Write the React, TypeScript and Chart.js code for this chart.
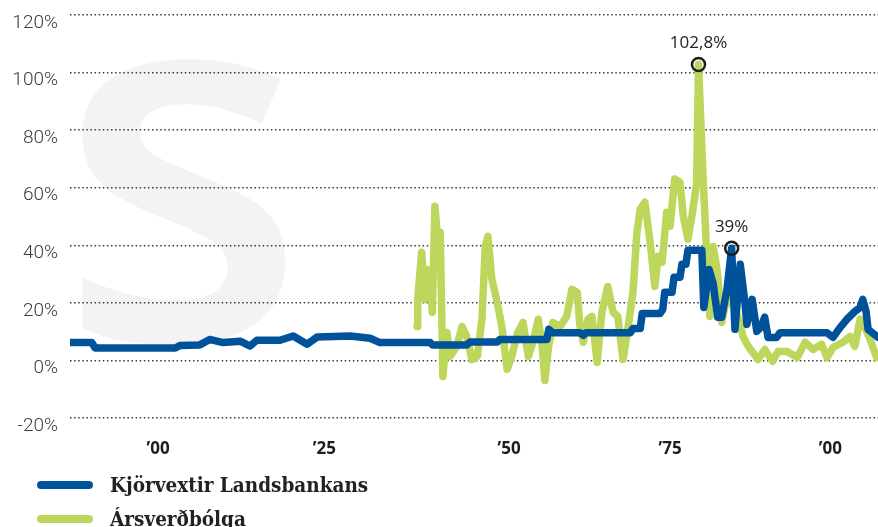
import { useEffect, useRef } from 'react';
import { Chart, registerables } from 'chart.js';

Chart.register(...registerables);

// Kjörvextir Landsbankans (prime rate, %)
const rateYears = [
  1886.0, 1889.3, 1889.8, 1901.9, 1902.6, 1905.6, 1907.1, 1909.1, 1911.7, 1913.2,
  1914.2, 1917.7, 1919.7, 1921.8, 1923.3, 1928.3, 1931.3, 1932.8, 1940.4, 1940.7,
  1945.9, 1946.4, 1950.5, 1950.9, 1958.0, 1958.3, 1958.9, 1963.0, 1963.5, 1963.9,
  1970.6, 1971.0, 1972.1, 1972.4, 1975.1, 1975.5, 1975.8, 1976.9, 1977.2, 1978.1,
  1978.4, 1979.0, 1979.3, 1981.4, 1981.7, 1982.5, 1983.1, 1983.8, 1984.4, 1985.2,
  1985.9, 1986.4, 1987.2, 1987.9, 1988.2, 1989.0, 1989.7, 1990.3, 1990.9, 1991.4,
  1992.7, 1993.2, 2000.3, 2001.2, 2002.3, 2003.3, 2004.5, 2005.3, 2005.7, 2006.2,
  2006.5, 2008.0,
];
const rateValues = [
  6.2, 6.2, 4.3, 4.3, 5.2, 5.4, 7.3, 6.2, 6.7, 5.0,
  7.0, 7.0, 8.5, 5.6, 8.1, 8.5, 7.7, 6.2, 6.2, 5.4,
  5.4, 6.4, 6.4, 7.3, 7.3, 10.8, 9.6, 9.6, 8.7, 9.6,
  9.6, 11.1, 11.1, 16.3, 16.3, 17.7, 23.7, 23.7, 28.9, 28.9,
  33.4, 33.4, 38.3, 38.3, 18.4, 31.6, 26.8, 15.0, 15.0, 24.7,
  39.0, 10.8, 33.4, 20.2, 12.5, 21.2, 10.1, 11.5, 15.0, 8.0,
  8.0, 9.6, 9.6, 8.0, 11.5, 14.3, 17.0, 18.4, 21.2, 17.0,
  10.8, 8.0,
];

// Ársverðbólga (annual inflation, %)
const inflationYears = [
  1938.4, 1938.5, 1939.1, 1939.6, 1939.9, 1940.4, 1940.7, 1941.1, 1941.6, 1941.9,
  1942.3, 1942.9, 1943.4, 1944.4, 1945.2, 1945.9, 1946.7, 1947.5, 1948.2, 1948.7,
  1949.1, 1949.7, 1950.5, 1951.2, 1952.0, 1952.7, 1953.6, 1954.4, 1955.2, 1955.9,
  1956.7, 1957.3, 1957.7, 1958.2, 1958.9, 1960.0, 1961.0, 1961.8, 1962.6, 1963.0,
  1963.5, 1964.2, 1964.8, 1965.6, 1966.3, 1967.2, 1968.0, 1968.7, 1969.5, 1970.3,
  1971.0, 1971.6, 1972.1, 1972.8, 1973.6, 1974.3, 1974.8, 1975.4, 1976.1, 1976.6,
  1977.3, 1978.1, 1978.6, 1979.3, 1979.9, 1980.6, 1980.9, 1981.6, 1982.2, 1982.6,
  1983.1, 1983.7, 1984.4, 1985.2, 1986.4, 1987.2, 1987.6, 1988.4, 1989.9, 1990.9,
  1992.1, 1992.9, 1994.3, 1995.8, 1997.0, 1998.2, 1999.5, 2000.3, 2001.2, 2002.7,
  2003.8, 2004.5, 2005.3, 2006.0, 2006.8, 2007.8,
];
const inflationValues = [
  11.8, 21.2, 37.6, 21.2, 31.6, 30.6, 16.7, 53.6, 39.6, 44.5,
  -5.6, 9.7, 1.4, 4.9, 11.8, 8.3, 0.3, 1.4, 14.3, 39.6,
  43.1, 28.2, 20.2, 11.8, -3.1, 1.4, 9.7, 13.2, 1.4, 6.3,
  14.3, 4.9, -7.0, 3.8, 13.2, 11.8, 15.3, 24.7, 23.6, 11.8,
  6.3, 14.3, 15.3, -0.7, 16.7, 25.7, 16.7, 15.3, 0.3, 12.0,
  23.6, 44.5, 52.5, 55.0, 41.0, 25.7, 36.2, 34.1, 51.5, 46.6,
  63.0, 61.9, 50.1, 42.1, 50.1, 61.2, 102.8, 63.0, 34.1, 15.3,
  39.6, 31.6, 13.2, 22.3, 18.0, 12.5, 8.3, 4.9, 0.3, 3.8,
  -0.3, 3.1, 3.1, 1.0, 6.3, 3.8, 5.6, 1.0, 4.5, 6.3,
  8.3, 4.9, 14.3, 11.8, 7.3, 1.0,
];

const seriesNames = ['Kjörvextir Landsbankans', 'Ársverðbólga'];
const seriesColors = ['#00539b', '#bdd75c'];

const xTickValues = [1899.3, 1924.4, 1952.3, 1976.6, 2000.8];
const xTickLabels = ['\u201900', '\u201925', '\u201950', '\u201975', '\u201900'];
const yMin = -20;
const yMax = 120;
const yStep = 20;

const calloutYears = [1980.9, 1985.9];
const calloutValues = [102.8, 39];
const calloutTexts = ['102,8%', '39%'];

const watermarkPlugin = {
  id: 'watermark',
  beforeDraw(chart: any) {
    const { ctx } = chart;
    ctx.save();
    ctx.fillStyle = '#f3f3f5';
    ctx.font = '600 510px "Open Sans"';
    ctx.textBaseline = 'alphabetic';
    ctx.fillText('s', 58, 340);
    ctx.restore();
  },
};

const calloutPlugin = {
  id: 'callouts',
  afterDatasetsDraw(chart: any) {
    const { ctx, scales } = chart;
    ctx.save();
    calloutYears.forEach((yr, i) => {
      const px = scales.x.getPixelForValue(yr);
      const py = scales.y.getPixelForValue(calloutValues[i]);
      ctx.beginPath();
      ctx.arc(px, py, 6.5, 0, Math.PI * 2);
      ctx.lineWidth = 2.5;
      ctx.strokeStyle = '#1e1e1e';
      ctx.stroke();
      ctx.fillStyle = '#222';
      ctx.font = '17px "Open Sans"';
      ctx.textAlign = 'center';
      ctx.textBaseline = 'middle';
      ctx.fillText(calloutTexts[i], px, py - 21);
    });
    ctx.restore();
  },
};

const legendPlugin = {
  id: 'customLegend',
  afterDraw(chart: any) {
    const { ctx } = chart;
    ctx.save();
    seriesNames.forEach((name, i) => {
      const cy = 485 + i * 34;
      ctx.beginPath();
      ctx.moveTo(41, cy);
      ctx.lineTo(89, cy);
      ctx.lineWidth = 8;
      ctx.lineCap = 'round';
      ctx.strokeStyle = seriesColors[i];
      ctx.stroke();
      ctx.fillStyle = '#222';
      ctx.font = "bold 20.5px 'DejaVu Serif Condensed', 'DejaVu Serif', serif";
      ctx.textAlign = 'left';
      ctx.textBaseline = 'alphabetic';
      ctx.fillText(name, 110, cy + 7);
    });
    ctx.restore();
  },
};

export default function App() {
  const canvasRef = useRef<HTMLCanvasElement | null>(null);

  useEffect(() => {
    document.body.style.margin = '0';
    const canvas = canvasRef.current;
    if (!canvas) return;
    const chart = new Chart(canvas, {
      type: 'line',
      data: {
        datasets: [
          {
            label: seriesNames[0],
            data: rateYears.map((x, i) => ({ x, y: rateValues[i] })),
            borderColor: seriesColors[0],
            borderWidth: 7.5,
            pointRadius: 0,
            borderJoinStyle: 'round',
            borderCapStyle: 'round',
            tension: 0,
          },
          {
            label: seriesNames[1],
            data: inflationYears.map((x, i) => ({ x, y: inflationValues[i] })),
            borderColor: seriesColors[1],
            borderWidth: 7.5,
            pointRadius: 0,
            borderJoinStyle: 'round',
            borderCapStyle: 'round',
            tension: 0,
          },
        ],
      },
      options: {
        responsive: false,
        animation: false,
        devicePixelRatio: 1,
        layout: { padding: { top: 15, left: 0, right: 0, bottom: 0 } },
        plugins: {
          legend: { display: false },
          tooltip: { enabled: false },
        },
        scales: {
          x: {
            type: 'linear',
            min: 1886,
            max: 2008,
            grid: { display: false, drawTicks: false },
            border: { display: false },
            afterBuildTicks: (scale: any) => {
              scale.ticks = xTickValues.map((v) => ({ value: v }));
            },
            afterFit: (scale: any) => {
              scale.height = 109;
              scale.paddingLeft = 0;
              scale.paddingRight = 0;
            },
            ticks: {
              autoSkip: false,
              maxRotation: 0,
              padding: 21,
              color: '#1e1e1e',
              font: { family: '"Open Sans"', size: 17, weight: 'bold' },
              callback: (_v: any, i: number) => xTickLabels[i],
            },
          },
          y: {
            min: yMin,
            max: yMax,
            afterFit: (scale: any) => {
              scale.width = 70;
              scale.paddingTop = 0;
              scale.paddingBottom = 0;
            },
            grid: {
              drawTicks: false,
              color: '#3a3a3a',
              lineWidth: 1.5,
            },
            border: { display: false, dash: [1.5, 2.6] },
            ticks: {
              stepSize: yStep,
              padding: 12,
              labelOffset: 8,
              color: '#3c3c3c',
              font: { family: 'Roboto', size: 19, weight: '300' },
              callback: (v: any) => `${v}%`,
            },
          },
        },
      },
      plugins: [watermarkPlugin, calloutPlugin, legendPlugin],
    } as any);
    return () => chart.destroy();
  }, []);

  return (
    <div style={{ width: 878, height: 527, position: 'relative' }}>
      <canvas ref={canvasRef} width={878} height={527} style={{ display: 'block' }} />
    </div>
  );
}
